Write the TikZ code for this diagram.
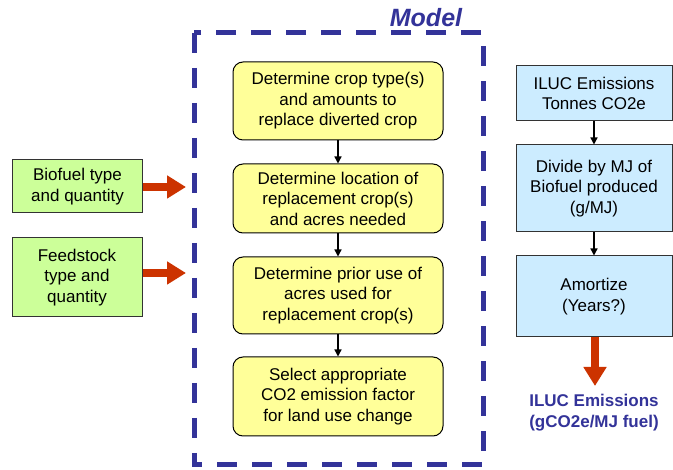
\documentclass[tikz,border=0pt]{standalone}
\usepackage{fontspec}
\setmainfont{Liberation Sans}
\usetikzlibrary{arrows.meta}
\definecolor{ylw}{HTML}{FFFF99}
\definecolor{grn}{HTML}{CCFF99}
\definecolor{lblue}{HTML}{CCECFF}
\definecolor{navy}{HTML}{333399}
\definecolor{rust}{HTML}{CC3300}
\tikzset{
  txt/.style={font=\fontsize{17}{20.5}\selectfont, align=center, inner sep=0pt},
  ybox/.style={txt, draw=black, line width=1pt, fill=ylw, rounded corners=10pt, minimum width=210pt},
  gbox/.style={txt, draw=black!80, line width=1pt, fill=grn, minimum width=130pt},
  bbox/.style={txt, draw=black!80, line width=1pt, fill=lblue, minimum width=156pt},
  thin arrow/.style={draw=black, line width=1.3pt, -{Triangle[length=7pt,width=7pt]}},
  fat arrow/.style={draw=rust, line width=8pt, -{Triangle[length=19pt,width=22pt]}},
}
\begin{document}
\begin{tikzpicture}[x=1pt,y=-1pt]
\useasboundingbox (0,0) rectangle (673,470);
\fill[white] (0,0) rectangle (673,470);
% dashed model frame
\draw[navy, line width=5pt, dash pattern=on 20pt off 15pt] (194,33) rectangle (483,465);
\node[font=\fontsize{25}{28}\selectfont\bfseries\itshape, text=navy, inner sep=0pt] (model) at (426,18) {Model};
% middle boxes
\node[ybox, minimum height=78pt] (m1) at (338,101) {Determine crop type(s)\\and amounts to\\replace diverted crop};
\node[ybox, minimum height=69pt] (m2) at (338,198.5) {Determine location of\\replacement crop(s)\\and acres needed};
\node[ybox, minimum height=77pt] (m3) at (338,295.5) {Determine prior use of\\acres used for\\replacement crop(s)};
\node[ybox, minimum height=79pt] (m4) at (338,396.5) {Select appropriate\\CO2 emission factor\\for land use change};
\draw[thin arrow] (m1) -- (m2);
\draw[thin arrow] (m2) -- (m3);
\draw[thin arrow] (m3) -- (m4);
% left inputs
\node[gbox, minimum height=53pt] (g1) at (77.5,186.5) {Biofuel type\\and quantity};
\node[gbox, minimum height=79pt] (g2) at (77,277.5) {Feedstock\\type and\\quantity};
\coordinate (e1) at (186,187);
\coordinate (e2) at (186,273);
\draw[fat arrow] (g1.east |- e1) -- (e1);
\draw[fat arrow] (g2.east |- e2) -- (e2);
% right chain
\node[bbox, minimum height=55pt] (r1) at (594,93.5) {ILUC Emissions\\Tonnes CO2e};
\node[bbox, minimum height=87pt] (r2) at (594,188.5) {Divide by MJ of\\Biofuel produced\\(g/MJ)};
\node[bbox, minimum height=81pt] (r3) at (594,296.5) {Amortize\\(Years?)};
\draw[thin arrow] (r1) -- (r2);
\draw[thin arrow] (r2) -- (r3);
\coordinate (e3) at (595,386);
\draw[fat arrow] (r3.south -| e3) -- (e3);
\node[txt, font=\fontsize{17}{21}\selectfont\bfseries, text=navy] (out) at (594,413) {ILUC Emissions\\(gCO2e/MJ fuel)};
\end{tikzpicture}
\end{document}
